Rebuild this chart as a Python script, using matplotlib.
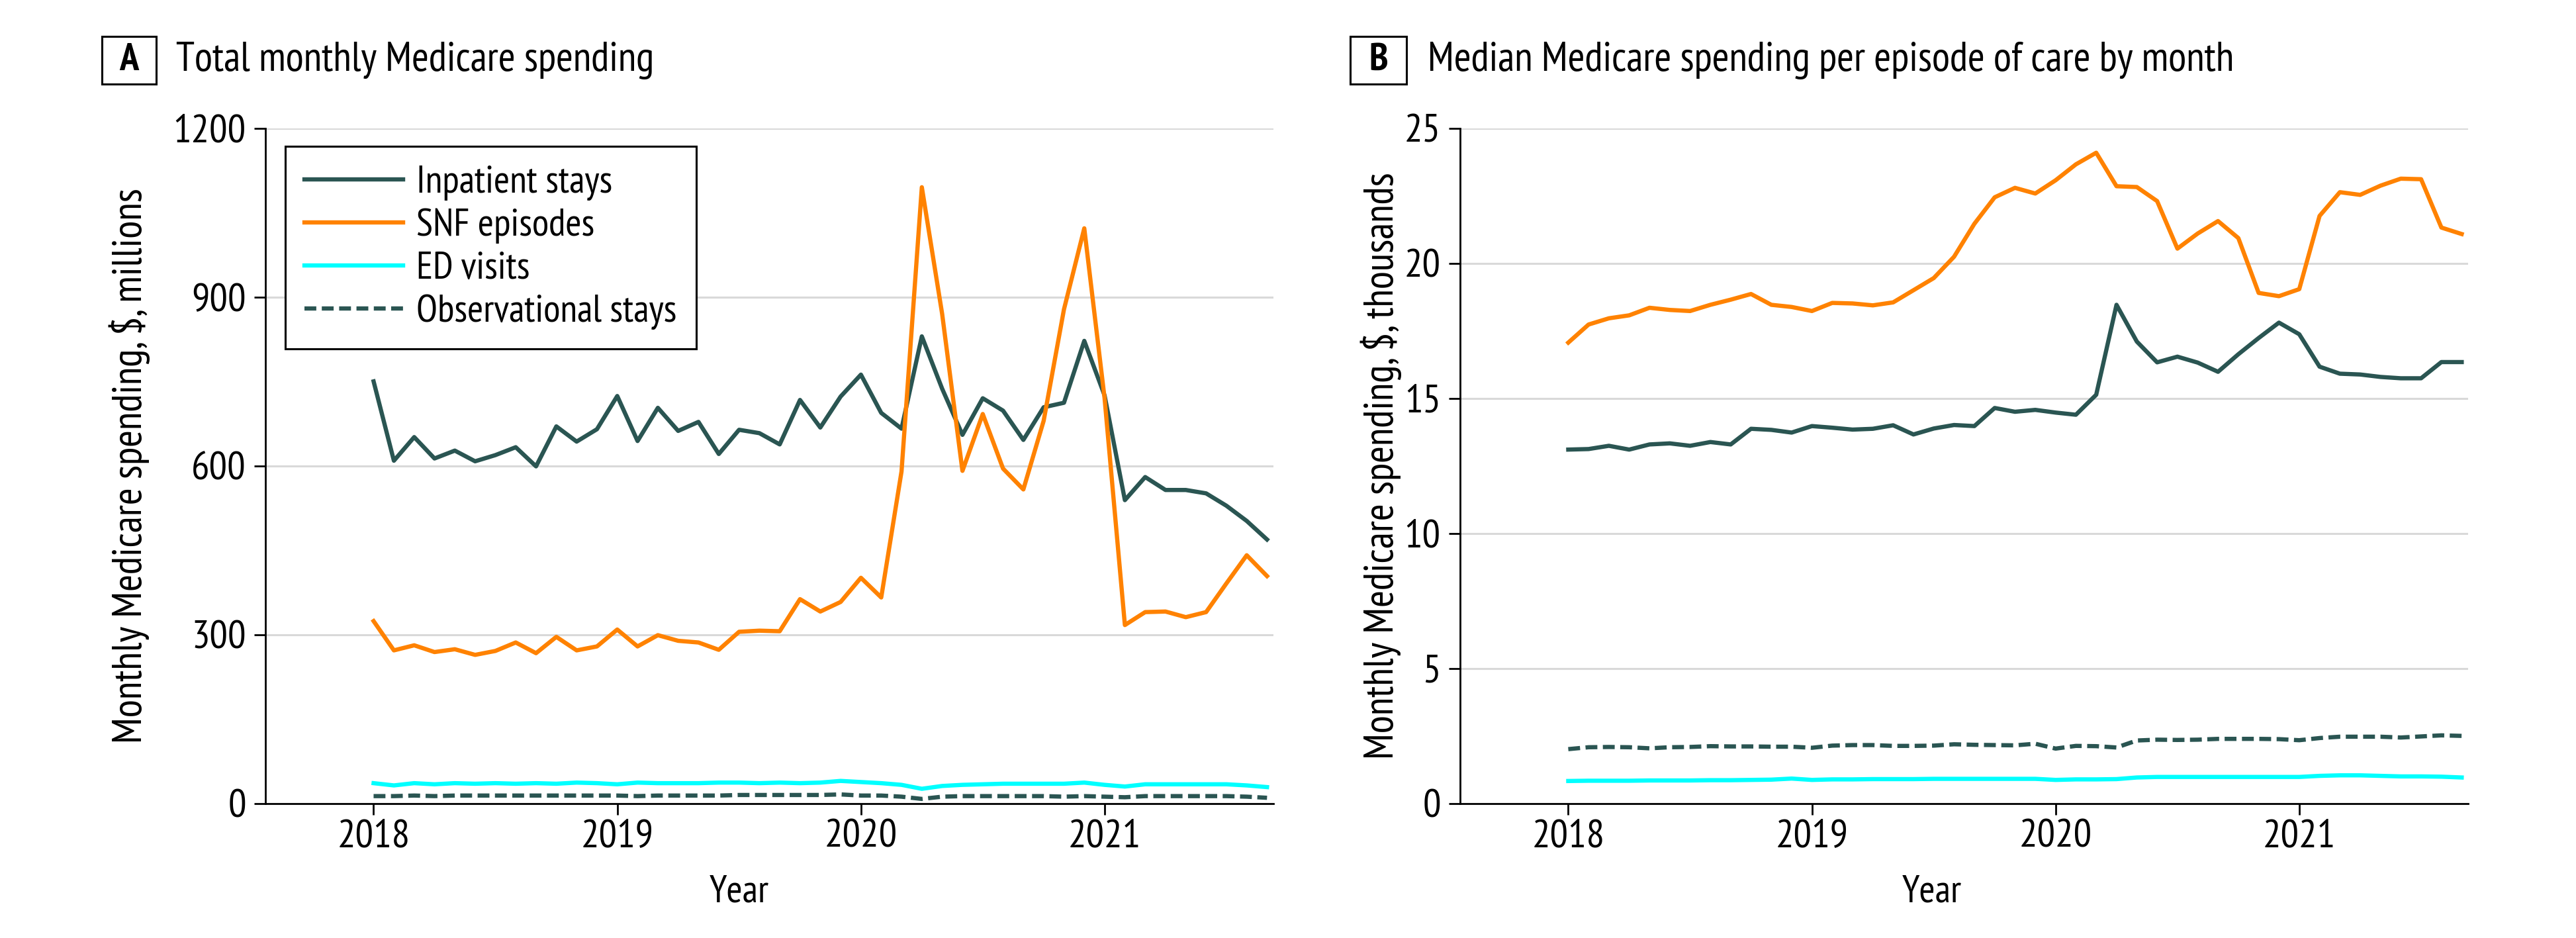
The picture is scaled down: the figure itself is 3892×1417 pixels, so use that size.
import numpy as np
import matplotlib
matplotlib.use("Agg")
import matplotlib.pyplot as plt
from matplotlib import font_manager
from matplotlib.patches import Rectangle

# ---- data: monthly, Jan 2018 - Sep 2021 ----
months = np.arange(45)
year_x = 2018 + months / 12

# panel A: total monthly spending, $ millions
a_inpatient = [750, 609, 651, 613, 627, 608, 619, 633, 599, 670,
               643, 665, 724, 644, 703, 662, 678, 621, 664, 658,
               638, 717, 668, 723, 762, 694, 666, 830, 737, 655,
               720, 698, 646, 704, 712, 822, 725, 539, 580, 557,
               557, 551, 529, 502, 469]
a_snf = [324, 272, 281, 269, 274, 264, 271, 286, 267, 296,
         272, 279, 309, 279, 299, 289, 286, 273, 305, 307,
         306, 363, 341, 358, 401, 366, 590, 1095, 870, 591,
         692, 595, 558, 680, 878, 1022, 720, 317, 340, 341,
         331, 340, 391, 441, 404]
a_ed = [36, 32, 36, 34, 36, 35, 36, 35, 36, 35,
        37, 36, 34, 37, 36, 36, 36, 37, 37, 36,
        37, 36, 37, 40, 38, 36, 33, 26, 31, 33,
        34, 35, 35, 35, 35, 37, 33, 30, 34, 34,
        34, 34, 34, 32, 29]
a_obs = [13, 13, 14, 13, 14, 14, 14, 14, 14, 14,
         14, 14, 14, 13, 14, 14, 14, 14, 15, 15,
         15, 15, 15, 16, 14, 14, 12, 8, 12, 13,
         13, 13, 13, 13, 12, 13, 12, 11, 13, 13,
         13, 13, 13, 12, 10]

# panel B: median spending per episode, $ thousands
b_inpatient = [13.10, 13.12, 13.24, 13.10, 13.29, 13.33, 13.24, 13.38, 13.29, 13.87,
               13.83, 13.73, 13.97, 13.91, 13.84, 13.87, 14.00, 13.66, 13.88, 14.01,
               13.97, 14.64, 14.50, 14.57, 14.47, 14.39, 15.13, 18.46, 17.10, 16.33,
               16.54, 16.32, 15.98, 16.63, 17.23, 17.80, 17.37, 16.17, 15.91, 15.88,
               15.79, 15.74, 15.74, 16.34, 16.34]
b_snf = [17.06, 17.73, 17.96, 18.07, 18.35, 18.27, 18.23, 18.46, 18.65, 18.86,
         18.46, 18.38, 18.23, 18.53, 18.51, 18.44, 18.55, 19.00, 19.45, 20.24,
         21.46, 22.44, 22.79, 22.58, 23.07, 23.66, 24.09, 22.85, 22.82, 22.30,
         20.54, 21.10, 21.56, 20.93, 18.90, 18.78, 19.04, 21.75, 22.63, 22.53,
         22.87, 23.13, 23.11, 21.32, 21.08]
b_ed = [0.83, 0.84, 0.84, 0.84, 0.85, 0.85, 0.85, 0.86, 0.86, 0.87,
        0.88, 0.92, 0.87, 0.89, 0.89, 0.90, 0.90, 0.90, 0.91, 0.91,
        0.91, 0.91, 0.91, 0.91, 0.87, 0.89, 0.89, 0.90, 0.96, 0.98,
        0.98, 0.98, 0.98, 0.98, 0.98, 0.98, 0.98, 1.02, 1.04, 1.04,
        1.02, 1.00, 1.00, 0.99, 0.96]
b_obs = [2.01, 2.08, 2.09, 2.08, 2.04, 2.08, 2.09, 2.12, 2.11, 2.11,
         2.10, 2.10, 2.06, 2.14, 2.16, 2.16, 2.13, 2.13, 2.14, 2.19,
         2.17, 2.16, 2.15, 2.21, 2.03, 2.13, 2.12, 2.07, 2.33, 2.36,
         2.35, 2.36, 2.39, 2.39, 2.39, 2.38, 2.34, 2.42, 2.47, 2.47,
         2.47, 2.44, 2.48, 2.52, 2.50]

series_names = ["Inpatient stays", "SNF episodes", "ED visits", "Observational stays"]
year_ticks = [2018, 2019, 2020, 2021]
a_yticks = [0, 300, 600, 900, 1200]
b_yticks = [0, 5, 10, 15, 20, 25]

TEAL = "#2a5552"
ORANGE = "#ff8200"
CYAN = "#00ffff"
GRID = "#d9d9d9"

# condensed font if one is installed, else DejaVu
have = {f.name for f in font_manager.fontManager.ttflist}
prefs = ["PT Sans Narrow", "Roboto Condensed", "Fira Sans Condensed",
         "Liberation Sans Narrow", "Roboto", "DejaVu Sans"]
FONT = next((f for f in prefs if f in have), "DejaVu Sans")
plt.rcParams["font.family"] = [FONT, "DejaVu Sans"]

FS_TICK = 22
FS_LEG = 21
FS_TITLE = 22.5
FS_LAB = 22.5
LW = 2.3
fig = plt.figure(figsize=(19.46, 7.085), dpi=200)
W, H = 3892, 1417


def px_axes(x0, x1, y0, y1):
    return fig.add_axes([x0 / W, 1 - y1 / H, (x1 - x0) / W, (y1 - y0) / H])


axA = px_axes(401, 1924, 193.6, 1213.7)
axB = px_axes(2206, 3729, 193.6, 1213.7)


def draw(ax, inp, snf, ed, obs, yticks):
    ax.plot(year_x, inp, color=TEAL, lw=LW, label=series_names[0], zorder=3)
    ax.plot(year_x, snf, color=ORANGE, lw=LW, label=series_names[1], zorder=3)
    ax.plot(year_x, ed, color=CYAN, lw=LW, label=series_names[2], zorder=3)
    ax.plot(year_x, obs, color=TEAL, lw=LW, ls=(0, (2.8, 1.3)), label=series_names[3], zorder=3)
    ax.set_xlim(2017.556, 2021.693)
    ax.set_ylim(yticks[0], yticks[-1])
    ax.set_xticks(year_ticks)
    ax.set_xticklabels([str(y) for y in year_ticks])
    ax.set_yticks(yticks)
    ax.yaxis.grid(True, color=GRID, lw=1.1, zorder=0)
    ax.set_axisbelow(True)
    for s in ["top", "right"]:
        ax.spines[s].set_visible(False)
    for s in ["left", "bottom"]:
        ax.spines[s].set_linewidth(1.0)
    ax.tick_params(axis="x", length=6, width=1.0, pad=2.5, labelsize=FS_TICK)
    ax.tick_params(axis="y", length=6, width=1.0, pad=4.5, labelsize=FS_TICK)


draw(axA, a_inpatient, a_snf, a_ed, a_obs, a_yticks)
draw(axB, b_inpatient, b_snf, b_ed, b_obs, b_yticks)

leg = axA.legend(loc="upper left", bbox_to_anchor=(0.0197, 0.9732), borderaxespad=0,
                 fontsize=FS_LEG, frameon=True, fancybox=False, framealpha=1,
                 handlelength=2.55, handletextpad=0.35, labelspacing=0.2,
                 borderpad=0.5)
leg.get_frame().set_edgecolor("black")
leg.get_frame().set_linewidth(1.1)

# panel letters + titles
for (bx0, bx1, letter, tx, title) in [(154, 236, "A", 266, "Total monthly Medicare spending"),
                                      (2040, 2125, "B", 2157, "Median Medicare spending per episode of care by month")]:
    fig.add_artist(Rectangle((bx0 / W, 1 - 127 / H), (bx1 - bx0) / W, 72 / H,
                             transform=fig.transFigure, fill=False, ec="black", lw=1.1))
    fig.text((bx0 + bx1) / 2 / W, 1 - 91 / H, letter, ha="center", va="center",
             fontsize=FS_LEG, fontweight="bold")
    fig.text(tx / W, 1 - 91 / H, title, ha="left", va="center", fontsize=FS_TITLE)

fig.text(196 / W, 1 - 703.6 / H, "Monthly Medicare spending, $, millions", rotation=90,
         ha="center", va="center", fontsize=FS_LAB)
fig.text(2087 / W, 1 - 703.6 / H, "Monthly Medicare spending, $, thousands", rotation=90,
         ha="center", va="center", fontsize=FS_LAB)
fig.text(1117 / W, 1 - 1348 / H, "Year", ha="center", va="center", fontsize=FS_LEG)
fig.text(2919 / W, 1 - 1348 / H, "Year", ha="center", va="center", fontsize=FS_LEG)

fig.savefig("out.png", dpi=200, facecolor="white")
